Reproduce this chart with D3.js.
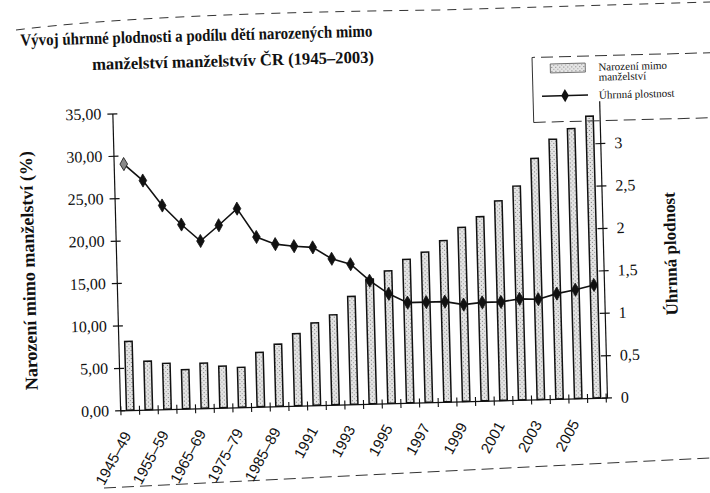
<!DOCTYPE html>
<html>
<head>
<meta charset="utf-8">
<script src="https://cdn.jsdelivr.net/npm/d3@7"></script>
<style>
  body { margin: 0; background: #fff; }
  svg { display: block; }
  .serif { font-family: "Liberation Serif", "DejaVu Serif", serif; }
  .sans { font-family: "Liberation Sans", Arial, sans-serif; }
</style>
</head>
<body>
<div id="chart"></div>
<script>
// data
const categories = ["1945–49", "1950–54", "1955–59", "1960–64", "1965–69", "1970–74", "1975–79", "1980–84", "1985–89",
  "1990", "1991", "1992", "1993", "1994", "1995", "1996", "1997", "1998", "1999", "2000", "2001", "2002", "2003", "2004", "2005", "2006"];
const outsideMarriage = [8.1, 5.7, 5.4, 4.6, 5.3, 4.9, 4.7, 6.4, 7.3, 8.5, 9.7, 10.6, 12.7, 14.7, 15.6, 16.9, 17.7, 19.0, 20.5, 21.7, 23.5, 25.2, 28.4, 30.6, 31.8, 33.2];
const fertility = [2.90, 2.70, 2.40, 2.17, 1.97, 2.15, 2.34, 2.00, 1.91, 1.88, 1.86, 1.72, 1.65, 1.45, 1.29, 1.18, 1.18, 1.18, 1.14, 1.16, 1.16, 1.19, 1.18, 1.24, 1.28, 1.33];
const shownLabels = ["1945–49", "1955–59", "1965–69", "1975–79", "1985–89", "1991", "1993", "1995", "1997", "1999", "2001", "2003", "2005"];
const leftTicks = [0, 5, 10, 15, 20, 25, 30, 35];
const rightTicks = [0, 0.5, 1, 1.5, 2, 2.5, 3];

const W = 710, H = 493;
const plot = { left: 116, right: 603, top: 107, bottom: 404 };

const svg = d3.select("#chart").append("svg")
  .attr("width", W)
  .attr("height", H);

const defs = svg.append("defs");
const pat = defs.append("pattern")
  .attr("id", "stip")
  .attr("width", 4).attr("height", 4)
  .attr("patternUnits", "userSpaceOnUse");
pat.append("rect").attr("width", 4).attr("height", 4).attr("fill", "#e4e4e4");
pat.append("rect").attr("x", 0).attr("y", 0).attr("width", 1).attr("height", 1).attr("fill", "#7a7a7a");
pat.append("rect").attr("x", 2).attr("y", 2).attr("width", 1).attr("height", 1).attr("fill", "#9a9a9a");

// scan edges (dashed cut lines)
svg.append("path")
  .attr("d", "M16,30 C110,18 260,12 440,10 L710,2")
  .attr("fill", "none").attr("stroke", "#333").attr("stroke-width", 1)
  .attr("stroke-dasharray", "9,7");
svg.append("path")
  .attr("d", "M104,488 L710,458")
  .attr("fill", "none").attr("stroke", "#333").attr("stroke-width", 1)
  .attr("stroke-dasharray", "12,6");

// the page was scanned slightly rotated
const g = svg.append("g").attr("transform", "rotate(-1.5,360,250)");

const x = d3.scaleBand()
  .domain(categories)
  .range([plot.left, plot.right])
  .paddingInner(0.6)
  .paddingOuter(0.34);

const yL = d3.scaleLinear().domain([0, 35]).range([plot.bottom, plot.top]);
const yR = d3.scaleLinear().domain([0, 3.5]).range([plot.bottom, plot.top]);

// bars
g.append("g").selectAll("rect")
  .data(outsideMarriage)
  .join("rect")
  .attr("x", (d, i) => x(categories[i]))
  .attr("y", d => yL(d))
  .attr("width", x.bandwidth())
  .attr("height", d => yL(0) - yL(d))
  .attr("fill", "url(#stip)")
  .attr("stroke", "#111")
  .attr("stroke-width", 1.5);

// left axis
const leftAxis = g.append("g")
  .attr("transform", `translate(${plot.left},0)`)
  .call(d3.axisLeft(yL).tickValues(leftTicks)
    .tickFormat(d => d3.format(".2f")(d).replace(".", ","))
    .tickSize(5).tickSizeOuter(0).tickPadding(6));
leftAxis.attr("font-family", null).attr("font-size", null);
leftAxis.selectAll(".tick line").attr("x1", 5);
leftAxis.selectAll("text").attr("class", "serif").style("font-size", "16px").attr("fill", "#111");
leftAxis.selectAll("path, line").attr("stroke", "#111").attr("stroke-width", 1.2);

// right axis
const rightAxis = g.append("g")
  .attr("transform", `translate(${plot.right},0)`)
  .call(d3.axisRight(yR).tickValues(rightTicks)
    .tickFormat(d => String(d).replace(".", ","))
    .tickSize(5).tickSizeOuter(0).tickPadding(9));
rightAxis.attr("font-family", null).attr("font-size", null);
rightAxis.selectAll(".tick line").attr("x1", -5);
rightAxis.selectAll("text").attr("class", "serif").style("font-size", "16px").attr("fill", "#111");
rightAxis.selectAll("path, line").attr("stroke", "#111").attr("stroke-width", 1.2);

// bottom axis
const bottomAxis = g.append("g")
  .attr("transform", `translate(0,${plot.bottom})`)
  .call(d3.axisBottom(x).tickSize(0).tickSizeOuter(0)
    .tickFormat(d => shownLabels.includes(d) ? d : ""));
bottomAxis.attr("font-family", null).attr("font-size", null);
bottomAxis.select(".domain").attr("stroke", "#111").attr("stroke-width", 1.2);
bottomAxis.selectAll("text")
  .attr("class", "sans")
  .style("font-size", "15px")
  .attr("fill", "#111")
  .attr("text-anchor", "end")
  .attr("y", 0)
  .attr("dy", 0)
  .attr("transform", "translate(1,25) rotate(-60)");

const gap = x.step() * x.paddingInner() / 2;
const bounds = categories.map(c => x(c) - gap).concat([x(categories[categories.length - 1]) + x.bandwidth() + gap]);
bottomAxis.append("g").selectAll("line")
  .data(bounds)
  .join("line")
  .attr("x1", d => d).attr("x2", d => d)
  .attr("y1", -4).attr("y2", 5)
  .attr("stroke", "#111").attr("stroke-width", 1.1);

// fertility line
const cx = (d, i) => x(categories[i]) + x.bandwidth() / 2;
const line = d3.line()
  .x(cx)
  .y(d => yR(d));

g.append("path")
  .datum(fertility)
  .attr("fill", "none")
  .attr("stroke", "#111")
  .attr("stroke-width", 1.6)
  .attr("d", line);

g.append("g").selectAll("path")
  .data(fertility)
  .join("path")
  .attr("transform", (d, i) => `translate(${cx(d, i)},${yR(d)})`)
  .attr("d", d3.symbol(d3.symbolDiamond, 50))
  .attr("fill", (d, i) => i === 0 ? "#888" : "#111")
  .attr("stroke", "#111")
  .attr("stroke-width", 0.8);

// titles
const title = g.append("g")
  .attr("class", "serif")
  .style("font-weight", "bold")
  .style("font-size", "17px")
  .attr("fill", "#111");
title.append("text").attr("x", 26).attr("y", 37)
  .attr("textLength", 352).attr("lengthAdjust", "spacingAndGlyphs")
  .text("Vývoj úhrnné plodnosti a podílu dětí narozených mimo");
title.append("text").attr("x", 97).attr("y", 63)
  .attr("textLength", 282).attr("lengthAdjust", "spacingAndGlyphs")
  .text("manželství manželstvív ČR (1945–2003)");

g.append("text")
  .attr("class", "serif")
  .attr("transform", "translate(28,262) rotate(-90)")
  .attr("text-anchor", "middle")
  .attr("dy", "0.35em")
  .style("font-weight", "bold")
  .style("font-size", "18px")
  .attr("fill", "#111")
  .text("Narození mimo manželství (%)");

g.append("text")
  .attr("class", "serif")
  .attr("transform", "translate(670,262) rotate(-90)")
  .attr("text-anchor", "middle")
  .attr("dy", "0.35em")
  .style("font-weight", "bold")
  .style("font-size", "17px")
  .attr("fill", "#111")
  .text("Úhrnná plodnost");

// legend
const legend = g.append("g");
legend.append("path")
  .attr("d", "M720,62 H537")
  .attr("fill", "none").attr("stroke", "#333").attr("stroke-dasharray", "12,6");
legend.append("path")
  .attr("d", "M537,62 V127")
  .attr("fill", "none").attr("stroke", "#333");
legend.append("path")
  .attr("d", "M537,127 H720")
  .attr("fill", "none").attr("stroke", "#333").attr("stroke-dasharray", "12,6");

legend.append("rect")
  .attr("x", 555).attr("y", 69).attr("width", 35).attr("height", 9)
  .attr("fill", "url(#stip)").attr("stroke", "#555").attr("stroke-width", 0.8);
legend.append("line")
  .attr("x1", 546).attr("x2", 592).attr("y1", 101).attr("y2", 101)
  .attr("stroke", "#111").attr("stroke-width", 1.6);
legend.append("path")
  .attr("transform", "translate(569,101)")
  .attr("d", d3.symbol(d3.symbolDiamond, 50))
  .attr("fill", "#111");

const legendText = legend.append("g")
  .attr("class", "serif")
  .style("font-size", "11px")
  .attr("fill", "#111");
legendText.append("text").attr("x", 603).attr("y", 77).text("Narození mimo");
legendText.append("text").attr("x", 603).attr("y", 87).text("manželství");
legendText.append("text").attr("x", 603).attr("y", 105).text("Úhrnná plostnost");
</script>
</body>
</html>
